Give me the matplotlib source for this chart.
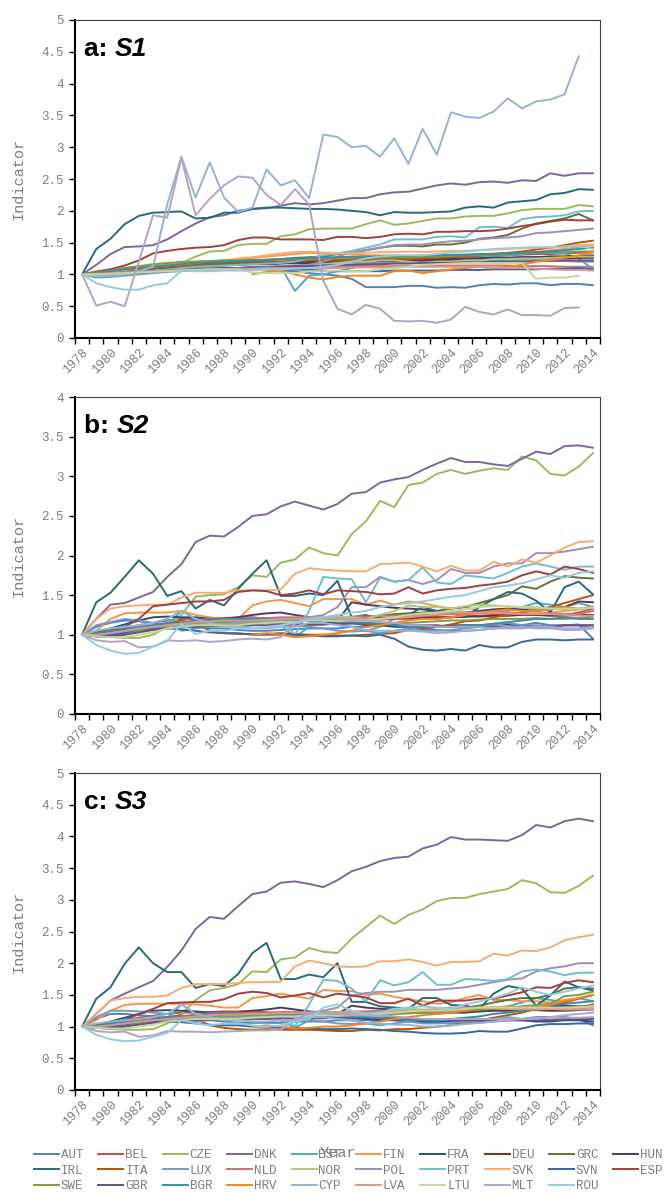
import numpy as np
import matplotlib
matplotlib.use("Agg")
import matplotlib.pyplot as plt

nan = np.nan
years = list(range(1978, 2015))

countries = ["AUT", "BEL", "CZE", "DNK", "EST", "FIN", "FRA", "DEU", "GRC", "HUN",
             "IRL", "ITA", "LUX", "NLD", "NOR", "POL", "PRT", "SVK", "SVN", "ESP",
             "SWE", "GBR", "BGR", "HRV", "CYP", "LVA", "LTU", "MLT", "ROU"]

colors = ["#4F81BD", "#C0504D", "#9BBB59", "#8064A2", "#4BACC6", "#F79646",
          "#2C4D75", "#772C2A", "#5F7530", "#4D3B62", "#276A7C", "#B65708",
          "#729ACA", "#CD7371", "#AFC97A", "#A48CBA", "#6FBDD1", "#F9AB6B",
          "#3A679C", "#A13F3D", "#7F9D40", "#6A5084", "#358EA6", "#F7841D",
          "#95B3D7", "#D99694", "#C3D69B", "#B3A2C7", "#93CDDD"]

# ---- panel a: S1 ----
s1 = {
    "AUT": [1.0, 1.02, 1.03, 1.05, 1.06, 1.07, 1.08, 1.08, 1.09, 1.1, 1.1, 1.1, 1.1, 1.08, 1.06, 1.05, 1.02, 1.0, 0.98, 0.93, 0.8, 0.8, 0.8, 0.82, 0.82, 0.79, 0.8, 0.79, 0.83, 0.85, 0.84, 0.86, 0.86, 0.83, 0.85, 0.85, 0.83],
    "BEL": [1.0, 1.03, 1.06, 1.08, 1.1, 1.12, 1.14, 1.15, 1.16, 1.17, 1.18, 1.18, 1.19, 1.2, 1.2, 1.21, 1.22, 1.22, 1.23, 1.24, 1.25, 1.25, 1.26, 1.26, 1.27, 1.27, 1.28, 1.28, 1.29, 1.3, 1.3, 1.31, 1.32, 1.32, 1.33, 1.34, 1.35],
    "CZE": [1.0, 1.0, 1.02, 1.04, 1.06, 1.08, 1.1, 1.18, 1.28, 1.36, 1.37, 1.46, 1.48, 1.48, 1.6, 1.63, 1.71, 1.72, 1.72, 1.72, 1.79, 1.85, 1.78, 1.8, 1.84, 1.88, 1.88, 1.91, 1.92, 1.92, 1.96, 2.01, 2.03, 2.03, 2.03, 2.09, 2.07],
    "DNK": [1.0, 1.15, 1.32, 1.43, 1.44, 1.46, 1.55, 1.68, 1.8, 1.9, 1.93, 2.0, 2.03, 2.04, 2.08, 2.12, 2.1, 2.12, 2.16, 2.2, 2.2, 2.26, 2.29, 2.3, 2.35, 2.4, 2.43, 2.41, 2.45, 2.46, 2.44, 2.48, 2.47, 2.59, 2.55, 2.59, 2.59],
    "EST": [1.0, 1.0, 1.02, 1.04, 1.06, 1.08, 1.1, 1.12, 1.14, 1.16, 1.17, 1.18, 1.2, 1.22, 1.12, 0.74, 0.98, 1.0, 1.05, 1.1, 1.15, 1.18, 1.2, 1.22, 1.2, 1.22, 1.24, 1.25, 1.26, 1.28, 1.3, 1.32, 1.35, 1.34, 1.33, 1.25, 1.08],
    "FIN": [1.0, 1.05, 1.08, 1.1, 1.12, 1.15, 1.17, 1.2, 1.2, 1.21, 1.22, 1.24, 1.26, 1.28, 1.3, 1.32, 1.34, 1.33, 1.32, 1.32, 1.3, 1.3, 1.3, 1.29, 1.29, 1.3, 1.3, 1.31, 1.32, 1.33, 1.33, 1.34, 1.35, 1.38, 1.4, 1.43, 1.46],
    "FRA": [1.0, 1.02, 1.05, 1.08, 1.1, 1.12, 1.13, 1.14, 1.15, 1.16, 1.17, 1.18, 1.18, 1.18, 1.19, 1.19, 1.2, 1.2, 1.21, 1.21, 1.22, 1.22, 1.23, 1.23, 1.24, 1.24, 1.25, 1.25, 1.25, 1.26, 1.26, 1.27, 1.27, 1.28, 1.28, 1.29, 1.3],
    "DEU": [1.0, 1.02, 1.04, 1.06, 1.08, 1.1, 1.11, 1.12, 1.13, 1.14, 1.15, 1.16, 1.17, 1.18, 1.18, 1.18, 1.18, 1.19, 1.19, 1.2, 1.2, 1.2, 1.21, 1.21, 1.21, 1.22, 1.22, 1.22, 1.23, 1.23, 1.24, 1.24, 1.25, 1.25, 1.25, 1.26, 1.26],
    "GRC": [1.0, 1.02, 1.05, 1.08, 1.1, 1.12, 1.14, 1.15, 1.16, 1.17, 1.18, 1.19, 1.2, 1.22, 1.24, 1.26, 1.27, 1.28, 1.32, 1.35, 1.38, 1.42, 1.45, 1.45, 1.44, 1.47, 1.47, 1.5, 1.56, 1.58, 1.62, 1.72, 1.8, 1.84, 1.88, 1.95, 1.85],
    "HUN": [1.0, 1.01, 1.03, 1.05, 1.06, 1.08, 1.1, 1.11, 1.12, 1.13, 1.14, 1.15, 1.16, 1.16, 1.17, 1.18, 1.18, 1.19, 1.2, 1.2, 1.21, 1.21, 1.22, 1.22, 1.23, 1.23, 1.24, 1.24, 1.25, 1.26, 1.26, 1.27, 1.27, 1.28, 1.28, 1.29, 1.29],
    "IRL": [1.0, 1.4, 1.56, 1.79, 1.92, 1.97, 1.98, 1.99, 1.88, 1.89, 1.97, 1.97, 2.03, 2.05, 2.05, 2.04, 2.03, 2.03, 2.02, 2.0, 1.98, 1.93, 1.98, 1.97, 1.97, 1.98, 1.99, 2.05, 2.07, 2.05, 2.13, 2.15, 2.17, 2.26, 2.28, 2.34, 2.33],
    "ITA": [1.0, 1.02, 1.04, 1.06, 1.08, 1.1, 1.12, 1.13, 1.14, 1.15, 1.16, 1.17, 1.18, 1.19, 1.2, 1.21, 1.22, 1.22, 1.22, 1.22, 1.23, 1.23, 1.24, 1.24, 1.25, 1.26, 1.27, 1.28, 1.3, 1.32, 1.34, 1.36, 1.39, 1.42, 1.46, 1.5, 1.53],
    "LUX": [1.0, 0.95, 0.96, 0.98, 1.0, 1.02, 1.04, 1.05, 1.06, 1.08, 1.1, 1.1, 1.12, 1.12, 1.13, 1.14, 1.15, 1.15, 1.16, 1.16, 1.17, 1.18, 1.18, 1.18, 1.19, 1.2, 1.2, 1.21, 1.22, 1.22, 1.22, 1.23, 1.23, 1.22, 1.21, 1.2, 1.2],
    "NLD": [1.0, 1.01, 1.02, 1.04, 1.05, 1.06, 1.07, 1.08, 1.09, 1.1, 1.1, 1.1, 1.11, 1.11, 1.12, 1.12, 1.12, 1.12, 1.12, 1.13, 1.13, 1.13, 1.13, 1.13, 1.13, 1.14, 1.14, 1.14, 1.14, 1.14, 1.14, 1.13, 1.13, 1.13, 1.12, 1.12, 1.12],
    "NOR": [1.0, 1.0, 1.01, 1.02, 1.03, 1.05, 1.06, 1.07, 1.08, 1.09, 1.1, 1.1, 1.1, 1.11, 1.11, 1.12, 1.14, 1.16, 1.18, 1.2, 1.2, 1.22, 1.22, 1.2, 1.18, 1.2, 1.2, 1.22, 1.22, 1.24, 1.24, 1.25, 1.25, 1.26, 1.27, 1.28, 1.28],
    "POL": [1.0, 1.01, 1.02, 1.03, 1.04, 1.05, 1.06, 1.07, 1.08, 1.09, 1.1, 1.1, 1.11, 1.12, 1.13, 1.14, 1.15, 1.2, 1.28, 1.35, 1.38, 1.42, 1.46, 1.47, 1.47, 1.5, 1.52, 1.53, 1.55, 1.57, 1.58, 1.6, 1.65, 1.66, 1.68, 1.7, 1.72],
    "PRT": [1.0, 0.98, 1.0, 1.02, 1.04, 1.06, 1.08, 1.1, 1.12, 1.13, 1.14, 1.15, 1.16, 1.17, 1.18, 1.2, 1.25, 1.3, 1.33, 1.37, 1.42, 1.47, 1.55, 1.55, 1.55, 1.59, 1.6, 1.58, 1.74, 1.75, 1.73, 1.87, 1.9, 1.91, 1.93, 1.99, 2.0],
    "SVK": [1.0, 1.03, 1.05, 1.07, 1.1, 1.12, 1.14, 1.16, 1.18, 1.2, 1.22, 1.25, 1.27, 1.3, 1.33, 1.35, 1.36, 1.34, 1.33, 1.33, 1.34, 1.35, 1.35, 1.36, 1.35, 1.36, 1.37, 1.37, 1.38, 1.39, 1.4, 1.41, 1.42, 1.43, 1.44, 1.46, 1.47],
    "SVN": [1.0, 1.0, 1.01, 1.02, 1.03, 1.04, 1.05, 1.06, 1.06, 1.07, 1.07, 1.08, 1.08, 1.08, 1.08, 1.08, 1.07, 1.06, 1.05, 1.05, 1.05, 1.05, 1.06, 1.06, 1.06, 1.06, 1.07, 1.07, 1.07, 1.08, 1.08, 1.08, 1.08, 1.09, 1.09, 1.1, 1.08],
    "ESP": [1.0, 1.04, 1.08, 1.14, 1.22, 1.33, 1.37, 1.4, 1.42, 1.43, 1.46, 1.54, 1.58, 1.58, 1.55, 1.55, 1.55, 1.54, 1.59, 1.59, 1.57, 1.59, 1.63, 1.64, 1.63, 1.67, 1.67, 1.68, 1.68, 1.69, 1.72, 1.76, 1.79, 1.83, 1.86, 1.85, 1.85],
    "SWE": [1.0, 1.03, 1.06, 1.1, 1.13, 1.16, 1.18, 1.19, 1.2, 1.21, 1.22, 1.22, 1.23, 1.23, 1.24, 1.24, 1.25, 1.25, 1.26, 1.26, 1.27, 1.27, 1.27, 1.27, 1.28, 1.28, 1.29, 1.3, 1.3, 1.31, 1.32, 1.33, 1.34, 1.35, 1.35, 1.36, 1.36],
    "GBR": [1.0, 1.01, 1.02, 1.03, 1.04, 1.05, 1.06, 1.07, 1.08, 1.09, 1.1, 1.1, 1.11, 1.11, 1.12, 1.13, 1.13, 1.14, 1.15, 1.15, 1.16, 1.16, 1.17, 1.17, 1.18, 1.18, 1.18, 1.19, 1.19, 1.2, 1.2, 1.2, 1.21, 1.21, 1.22, 1.22, 1.22],
    "BGR": [1.0, 1.02, 1.05, 1.08, 1.1, 1.12, 1.14, 1.16, 1.18, 1.19, 1.2, 1.21, 1.22, 1.23, 1.24, 1.25, 1.26, 1.27, 1.27, 1.28, 1.28, 1.28, 1.29, 1.29, 1.3, 1.3, 1.31, 1.31, 1.32, 1.32, 1.33, 1.34, 1.35, 1.36, 1.38, 1.4, 1.42],
    "HRV": [nan] * 12 + [1.0, 1.04, 1.06, 1.0, 0.95, 0.92, 0.96, 0.98, 0.98, 0.98, 1.05, 1.06, 1.02, 1.05, 1.08, 1.1, 1.12, 1.1, 1.12, 1.15, 1.2, 1.22, 1.26, 1.3, 1.35],
    "CYP": [1.0, 0.97, 0.98, 1.0, 1.05, 1.12, 2.1, 2.85, 2.21, 2.76, 2.21, 1.98, 2.05, 2.65, 2.4, 2.48, 2.2, 3.2, 3.16, 3.0, 3.02, 2.85, 3.14, 2.74, 3.29, 2.88, 3.55, 3.48, 3.46, 3.56, 3.77, 3.61, 3.72, 3.75, 3.83, 4.43, nan],
    "LVA": [1.0, 1.01, 1.02, 1.03, 1.04, 1.05, 1.06, 1.07, 1.07, 1.08, 1.08, 1.09, 1.09, 1.1, 1.1, 1.1, 1.1, 1.1, 1.1, 1.11, 1.11, 1.11, 1.11, 1.12, 1.12, 1.12, 1.12, 1.12, 1.12, 1.11, 1.1, 1.1, 1.09, 1.08, 1.07, 1.07, 1.06],
    "LTU": [1.0, 1.0, 1.01, 1.02, 1.03, 1.04, 1.05, 1.06, 1.07, 1.08, 1.08, 1.08, 1.03, 1.02, 1.02, 1.02, 1.05, 1.05, 1.06, 1.05, 1.05, 1.08, 1.1, 1.12, 1.15, 1.16, 1.17, 1.18, 1.18, 1.18, 1.18, 1.18, 0.93, 0.95, 0.95, 0.98, nan],
    "MLT": [1.0, 0.51, 0.57, 0.5, 1.2, 1.93, 1.89, 2.83, 1.93, 2.19, 2.4, 2.54, 2.52, 2.25, 2.09, 2.34, 2.1, 0.9, 0.46, 0.37, 0.52, 0.46, 0.27, 0.26, 0.27, 0.24, 0.29, 0.49, 0.41, 0.37, 0.45, 0.36, 0.36, 0.35, 0.47, 0.48, nan],
    "ROU": [1.0, 0.86, 0.8, 0.76, 0.76, 0.83, 0.86, 1.06, 1.05, 1.05, 1.06, 1.06, 1.07, 1.08, 1.08, 1.09, 1.1, 1.12, 1.15, 1.2, 1.25, 1.28, 1.3, 1.3, 1.3, 1.32, 1.35, 1.36, 1.38, 1.4, 1.41, 1.42, 1.43, 1.42, 1.43, 1.45, 1.4],
}

# ---- panel b: S2 ----
s2 = {
    "AUT": [1.0, 1.1, 1.15, 1.18, 1.17, 1.14, 1.12, 1.1, 1.1, 1.08, 1.08, 1.06, 1.05, 1.05, 1.06, 1.07, 1.08, 1.08, 1.08, 1.1, 1.1, 1.12, 1.12, 1.1, 1.08, 1.06, 1.05, 1.05, 1.06, 1.08, 1.1, 1.12, 1.15, 1.12, 1.12, 1.13, 0.95],
    "BEL": [1.0, 1.02, 1.05, 1.08, 1.12, 1.15, 1.18, 1.2, 1.2, 1.21, 1.21, 1.22, 1.22, 1.2, 1.2, 1.19, 1.2, 1.2, 1.2, 1.2, 1.19, 1.19, 1.2, 1.2, 1.21, 1.22, 1.22, 1.23, 1.24, 1.25, 1.25, 1.26, 1.25, 1.25, 1.25, 1.28, 1.33],
    "CZE": [1.0, 0.98, 0.97, 0.96, 0.96, 1.0, 1.1, 1.25, 1.48, 1.5, 1.51, 1.6, 1.75, 1.73, 1.91, 1.95, 2.1, 2.03, 2.0, 2.27, 2.43, 2.69, 2.61, 2.89, 2.92, 3.03, 3.08, 3.03, 3.07, 3.1, 3.08, 3.25, 3.2, 3.03, 3.01, 3.12, 3.29],
    "DNK": [1.0, 1.2, 1.38, 1.4, 1.47, 1.54, 1.73, 1.89, 2.17, 2.25, 2.24, 2.36, 2.5, 2.52, 2.62, 2.68, 2.63, 2.58, 2.65, 2.78, 2.8, 2.92, 2.96, 2.99, 3.08, 3.16, 3.23, 3.18, 3.18, 3.15, 3.13, 3.22, 3.31, 3.28, 3.38, 3.39, 3.36],
    "EST": [1.0, 1.0, 1.02, 1.05, 1.08, 1.1, 1.12, 1.3, 1.2, 1.15, 1.18, 1.2, 1.22, 1.2, 1.12, 0.97, 1.1, 1.2, 1.15, 1.1, 1.05, 1.1, 1.2, 1.25, 1.22, 1.2, 1.22, 1.25, 1.3, 1.28, 1.3, 1.35, 1.4, 1.38, 1.35, 1.4, 1.35],
    "FIN": [1.0, 1.05, 1.2, 1.27, 1.28, 1.28, 1.28, 1.3, 1.25, 1.22, 1.2, 1.2, 1.37, 1.42, 1.44, 1.4, 1.36, 1.45, 1.45, 1.45, 1.38, 1.43, 1.38, 1.42, 1.4, 1.36, 1.33, 1.35, 1.3, 1.28, 1.28, 1.27, 1.26, 1.28, 1.3, 1.32, 1.35],
    "FRA": [1.0, 1.03, 1.08, 1.13, 1.18, 1.22, 1.23, 1.22, 1.22, 1.2, 1.2, 1.19, 1.2, 1.21, 1.2, 1.2, 1.18, 1.15, 1.15, 1.15, 1.12, 1.12, 1.1, 1.1, 1.1, 1.1, 1.12, 1.12, 1.12, 1.13, 1.13, 1.12, 1.1, 1.1, 1.12, 1.12, 1.1],
    "DEU": [1.0, 1.02, 1.04, 1.06, 1.08, 1.1, 1.12, 1.13, 1.14, 1.15, 1.16, 1.17, 1.18, 1.18, 1.18, 1.19, 1.19, 1.2, 1.2, 1.2, 1.2, 1.21, 1.21, 1.21, 1.22, 1.22, 1.22, 1.23, 1.23, 1.24, 1.24, 1.25, 1.25, 1.24, 1.24, 1.25, 1.25],
    "GRC": [1.0, 1.0, 1.02, 1.04, 1.06, 1.08, 1.1, 1.12, 1.13, 1.14, 1.15, 1.16, 1.17, 1.17, 1.17, 1.18, 1.18, 1.19, 1.2, 1.2, 1.22, 1.24, 1.26, 1.27, 1.28, 1.3, 1.33, 1.35, 1.4, 1.45, 1.5, 1.61, 1.58, 1.67, 1.74, 1.72, 1.71],
    "HUN": [1.0, 1.0, 1.01, 1.03, 1.05, 1.08, 1.1, 1.12, 1.15, 1.18, 1.2, 1.22, 1.25, 1.27, 1.28, 1.25, 1.22, 1.2, 1.18, 1.41, 1.38, 1.36, 1.34, 1.33, 1.32, 1.3, 1.28, 1.28, 1.3, 1.32, 1.33, 1.32, 1.3, 1.32, 1.35, 1.42, 1.41],
    "IRL": [1.0, 1.41, 1.53, 1.73, 1.94, 1.77, 1.49, 1.55, 1.33, 1.44, 1.37, 1.58, 1.77, 1.94, 1.49, 1.49, 1.52, 1.5, 1.68, 1.22, 1.25, 1.2, 1.2, 1.25, 1.35, 1.3, 1.28, 1.22, 1.35, 1.45, 1.54, 1.52, 1.43, 1.28, 1.6, 1.67, 1.51],
    "ITA": [1.0, 0.98, 1.0, 1.03, 1.06, 1.1, 1.14, 1.18, 1.14, 1.05, 1.02, 1.01, 1.01, 1.01, 1.02, 1.01, 1.0, 1.0, 0.99, 0.99, 1.0, 1.01, 1.02, 1.06, 1.07, 1.1, 1.13, 1.17, 1.18, 1.22, 1.25, 1.28, 1.32, 1.35, 1.4, 1.45, 1.5],
    "LUX": [1.0, 1.12, 1.16, 1.2, 1.18, 1.15, 1.2, 1.05, 1.08, 1.1, 1.12, 1.1, 1.12, 1.15, 1.15, 1.12, 1.1, 1.08, 1.05, 1.04, 1.05, 1.02, 1.05, 1.08, 1.05, 1.05, 1.06, 1.08, 1.1, 1.12, 1.15, 1.12, 1.12, 1.1, 1.12, 1.12, 1.12],
    "NLD": [1.0, 1.01, 1.03, 1.05, 1.08, 1.1, 1.12, 1.15, 1.18, 1.2, 1.2, 1.2, 1.21, 1.21, 1.22, 1.22, 1.22, 1.22, 1.22, 1.23, 1.23, 1.24, 1.24, 1.24, 1.25, 1.25, 1.26, 1.26, 1.27, 1.28, 1.28, 1.27, 1.27, 1.27, 1.26, 1.26, 1.3],
    "NOR": [1.0, 1.0, 1.02, 1.04, 1.06, 1.08, 1.1, 1.12, 1.14, 1.15, 1.16, 1.17, 1.18, 1.18, 1.18, 1.18, 1.2, 1.22, 1.23, 1.22, 1.2, 1.25, 1.3, 1.37, 1.35, 1.35, 1.33, 1.36, 1.38, 1.37, 1.36, 1.34, 1.33, 1.33, 1.32, 1.33, 1.34],
    "POL": [1.0, 1.0, 1.01, 1.03, 1.05, 1.07, 1.08, 1.1, 1.11, 1.12, 1.13, 1.14, 1.15, 1.16, 1.18, 1.2, 1.22, 1.25, 1.35, 1.6, 1.6, 1.73, 1.67, 1.69, 1.64, 1.69, 1.83, 1.78, 1.78, 1.86, 1.9, 1.9, 2.03, 2.03, 2.05, 2.08, 2.11],
    "PRT": [1.0, 1.0, 1.02, 1.04, 1.06, 1.08, 1.1, 1.12, 1.14, 1.15, 1.15, 1.16, 1.17, 1.18, 1.2, 1.0, 1.3, 1.73, 1.71, 1.7, 1.41, 1.72, 1.67, 1.69, 1.85, 1.66, 1.64, 1.75, 1.73, 1.71, 1.78, 1.86, 1.9, 1.86, 1.82, 1.86, 1.86],
    "SVK": [1.0, 1.2, 1.33, 1.36, 1.37, 1.38, 1.38, 1.47, 1.53, 1.53, 1.53, 1.56, 1.56, 1.56, 1.57, 1.77, 1.84, 1.82, 1.81, 1.8, 1.8, 1.89, 1.9, 1.91, 1.86, 1.8, 1.87, 1.81, 1.81, 1.92, 1.86, 1.95, 1.91, 2.0, 2.1, 2.17, 2.18],
    "SVN": [1.0, 1.0, 1.0, 1.02, 1.05, 1.08, 1.08, 1.07, 1.05, 1.03, 1.02, 1.02, 1.0, 1.0, 1.0, 1.0, 0.99, 0.98, 0.98, 0.99, 0.98, 1.0, 0.95, 0.85, 0.81, 0.8, 0.82, 0.8, 0.87, 0.84, 0.84, 0.91, 0.94, 0.94, 0.93, 0.94, 0.94],
    "ESP": [1.0, 1.02, 1.05, 1.1, 1.2, 1.36, 1.38, 1.4, 1.42, 1.42, 1.44, 1.54, 1.56, 1.55, 1.5, 1.52, 1.56, 1.51, 1.56, 1.55, 1.54, 1.51, 1.52, 1.6, 1.52, 1.56, 1.58, 1.59, 1.62, 1.64, 1.67, 1.75, 1.8, 1.76, 1.86, 1.83, 1.78],
    "SWE": [1.0, 0.98, 0.97, 1.0, 1.05, 1.1, 1.12, 1.14, 1.15, 1.16, 1.16, 1.17, 1.17, 1.15, 1.13, 1.12, 1.12, 1.13, 1.14, 1.15, 1.14, 1.14, 1.14, 1.15, 1.16, 1.17, 1.18, 1.18, 1.19, 1.2, 1.2, 1.2, 1.21, 1.2, 1.2, 1.21, 1.23],
    "GBR": [1.0, 0.98, 0.98, 1.0, 1.03, 1.06, 1.08, 1.1, 1.1, 1.11, 1.12, 1.12, 1.12, 1.12, 1.13, 1.13, 1.13, 1.13, 1.14, 1.14, 1.14, 1.14, 1.14, 1.12, 1.12, 1.12, 1.1, 1.1, 1.1, 1.1, 1.1, 1.1, 1.1, 1.1, 1.12, 1.12, 1.12],
    "BGR": [1.0, 1.02, 1.05, 1.08, 1.1, 1.12, 1.15, 1.15, 1.18, 1.2, 1.2, 1.2, 1.2, 1.2, 1.2, 1.19, 1.18, 1.18, 1.17, 1.16, 1.15, 1.14, 1.12, 1.1, 1.1, 1.1, 1.1, 1.12, 1.12, 1.14, 1.16, 1.18, 1.2, 1.2, 1.22, 1.2, 1.2],
    "HRV": [nan] * 12 + [1.0, 1.02, 1.0, 0.97, 0.98, 1.0, 1.02, 1.05, 1.1, 1.12, 1.15, 1.18, 1.2, 1.2, 1.22, 1.25, 1.28, 1.3, 1.32, 1.3, 1.3, 1.32, 1.35, 1.33, 1.35],
    "CYP": [1.0, 1.05, 1.08, 1.1, 1.12, 1.15, 1.2, 1.3, 1.2, 1.15, 1.1, 1.1, 1.08, 1.08, 1.1, 1.1, 1.15, 1.15, 1.12, 1.1, 1.06, 1.05, 1.05, 1.05, 1.04, 1.02, 1.03, 1.05, 1.06, 1.08, 1.1, 1.1, 1.08, 1.08, 1.06, 1.06, 1.08],
    "LVA": [1.0, 1.0, 1.02, 1.05, 1.08, 1.1, 1.12, 1.14, 1.16, 1.17, 1.18, 1.18, 1.18, 1.19, 1.2, 1.2, 1.2, 1.2, 1.2, 1.2, 1.2, 1.2, 1.21, 1.22, 1.24, 1.26, 1.28, 1.28, 1.28, 1.28, 1.27, 1.26, 1.26, 1.26, 1.25, 1.24, 1.24],
    "LTU": [1.0, 0.98, 0.97, 0.97, 1.0, 1.03, 1.08, 1.1, 1.12, 1.12, 1.12, 1.12, 1.14, 1.15, 1.16, 1.16, 1.18, 1.18, 1.17, 1.18, 1.18, 1.2, 1.22, 1.25, 1.27, 1.28, 1.3, 1.32, 1.35, 1.36, 1.36, 1.35, 1.35, 1.33, 1.33, 1.33, 1.34],
    "MLT": [1.0, 0.93, 0.91, 0.92, 0.84, 0.85, 0.93, 0.92, 0.93, 0.91, 0.92, 0.94, 0.95, 0.94, 0.97, 1.14, 1.2, 1.22, 1.2, 1.18, 1.18, 1.16, 1.15, 1.12, 1.12, 1.1, 1.1, 1.1, 1.1, 1.08, 1.08, 1.08, 1.1, 1.1, 1.08, 1.08, 1.1],
    "ROU": [1.0, 0.87, 0.8, 0.76, 0.77, 0.85, 0.92, 1.14, 1.01, 1.05, 1.05, 1.08, 1.08, 1.1, 1.12, 1.15, 1.2, 1.22, 1.25, 1.28, 1.3, 1.35, 1.38, 1.4, 1.42, 1.45, 1.48, 1.5, 1.55, 1.6, 1.62, 1.65, 1.7, 1.75, 1.72, 1.78, 1.8],
}

# ---- panel c: S3 ----
s3 = {
    "AUT": [1.0, 1.12, 1.2, 1.2, 1.18, 1.16, 1.14, 1.12, 1.12, 1.1, 1.08, 1.06, 1.06, 1.06, 1.06, 1.08, 1.08, 1.08, 1.1, 1.1, 1.1, 1.12, 1.12, 1.1, 1.08, 1.06, 1.05, 1.05, 1.06, 1.08, 1.1, 1.12, 1.15, 1.15, 1.15, 1.12, 1.02],
    "BEL": [1.0, 1.02, 1.05, 1.1, 1.14, 1.17, 1.2, 1.22, 1.22, 1.23, 1.24, 1.24, 1.25, 1.22, 1.22, 1.21, 1.22, 1.22, 1.22, 1.22, 1.2, 1.2, 1.21, 1.21, 1.22, 1.23, 1.23, 1.24, 1.25, 1.26, 1.27, 1.28, 1.28, 1.28, 1.28, 1.3, 1.35],
    "CZE": [1.0, 0.98, 0.96, 0.95, 0.95, 0.96, 1.05, 1.2, 1.42, 1.57, 1.61, 1.67, 1.87, 1.86, 2.06, 2.09, 2.24, 2.18, 2.16, 2.39, 2.57, 2.75, 2.62, 2.76, 2.85, 2.98, 3.03, 3.03, 3.09, 3.13, 3.17, 3.31, 3.26, 3.12, 3.11, 3.22, 3.38],
    "DNK": [1.0, 1.2, 1.41, 1.52, 1.62, 1.72, 1.94, 2.2, 2.54, 2.73, 2.7, 2.9, 3.09, 3.13, 3.27, 3.29, 3.25, 3.2, 3.31, 3.45, 3.52, 3.61, 3.66, 3.68, 3.81, 3.87, 3.99, 3.95, 3.95, 3.94, 3.93, 4.02, 4.18, 4.14, 4.24, 4.28, 4.24],
    "EST": [1.0, 1.0, 1.02, 1.05, 1.08, 1.1, 1.12, 1.35, 1.2, 1.15, 1.18, 1.2, 1.22, 1.2, 1.1, 0.98, 1.1, 1.2, 1.15, 1.1, 1.05, 1.1, 1.2, 1.25, 1.22, 1.2, 1.22, 1.26, 1.3, 1.28, 1.32, 1.38, 1.45, 1.42, 1.38, 1.45, 1.4],
    "FIN": [1.0, 1.1, 1.25, 1.34, 1.36, 1.36, 1.36, 1.36, 1.35, 1.33, 1.3, 1.3, 1.45, 1.48, 1.52, 1.48, 1.44, 1.58, 1.56, 1.56, 1.5, 1.52, 1.47, 1.43, 1.4, 1.36, 1.38, 1.45, 1.5, 1.42, 1.42, 1.4, 1.4, 1.38, 1.42, 1.45, 1.5],
    "FRA": [1.0, 1.03, 1.08, 1.14, 1.2, 1.25, 1.26, 1.25, 1.24, 1.22, 1.22, 1.21, 1.22, 1.22, 1.21, 1.2, 1.18, 1.15, 1.15, 1.14, 1.12, 1.1, 1.1, 1.08, 1.07, 1.07, 1.08, 1.08, 1.08, 1.1, 1.1, 1.1, 1.08, 1.08, 1.1, 1.1, 1.08],
    "DEU": [1.0, 1.02, 1.04, 1.06, 1.08, 1.1, 1.12, 1.14, 1.15, 1.16, 1.17, 1.18, 1.19, 1.2, 1.2, 1.2, 1.2, 1.21, 1.21, 1.21, 1.21, 1.22, 1.22, 1.22, 1.23, 1.23, 1.23, 1.24, 1.24, 1.25, 1.25, 1.26, 1.26, 1.25, 1.25, 1.26, 1.27],
    "GRC": [1.0, 1.0, 1.02, 1.04, 1.06, 1.08, 1.1, 1.12, 1.14, 1.15, 1.16, 1.17, 1.18, 1.18, 1.18, 1.19, 1.19, 1.2, 1.2, 1.2, 1.21, 1.22, 1.22, 1.22, 1.24, 1.26, 1.28, 1.3, 1.33, 1.38, 1.42, 1.45, 1.45, 1.5, 1.6, 1.62, 1.6],
    "HUN": [1.0, 1.0, 1.01, 1.03, 1.05, 1.08, 1.1, 1.12, 1.15, 1.18, 1.2, 1.22, 1.25, 1.27, 1.3, 1.27, 1.24, 1.22, 1.2, 1.33, 1.3, 1.28, 1.27, 1.25, 1.23, 1.22, 1.22, 1.22, 1.24, 1.26, 1.28, 1.3, 1.3, 1.32, 1.33, 1.32, 1.32],
    "IRL": [1.0, 1.44, 1.62, 1.99, 2.25, 2.0, 1.86, 1.86, 1.61, 1.67, 1.64, 1.83, 2.16, 2.32, 1.75, 1.75, 1.82, 1.78, 2.0, 1.39, 1.39, 1.32, 1.3, 1.28, 1.45, 1.45, 1.34, 1.33, 1.28, 1.52, 1.64, 1.6, 1.33, 1.49, 1.71, 1.62, 1.57],
    "ITA": [1.0, 0.98, 1.0, 1.04, 1.08, 1.12, 1.15, 1.18, 1.12, 1.02, 0.98, 0.96, 0.95, 0.96, 0.95, 0.95, 0.95, 0.94, 0.93, 0.93, 0.95, 0.94, 0.96, 0.96, 0.98, 1.0, 1.02, 1.05, 1.1, 1.14, 1.18, 1.22, 1.28, 1.33, 1.38, 1.44, 1.5],
    "LUX": [1.0, 1.15, 1.25, 1.25, 1.24, 1.22, 1.2, 1.1, 1.08, 1.1, 1.12, 1.1, 1.12, 1.15, 1.15, 1.12, 1.1, 1.08, 1.05, 1.04, 1.05, 1.02, 1.05, 1.08, 1.05, 1.05, 1.06, 1.08, 1.1, 1.12, 1.15, 1.12, 1.12, 1.1, 1.12, 1.12, 1.12],
    "NLD": [1.0, 1.01, 1.03, 1.05, 1.08, 1.1, 1.13, 1.16, 1.19, 1.21, 1.21, 1.21, 1.22, 1.22, 1.23, 1.23, 1.23, 1.23, 1.23, 1.24, 1.24, 1.25, 1.25, 1.25, 1.26, 1.26, 1.27, 1.27, 1.28, 1.29, 1.29, 1.28, 1.28, 1.28, 1.27, 1.28, 1.32],
    "NOR": [1.0, 1.0, 1.02, 1.04, 1.06, 1.08, 1.1, 1.12, 1.14, 1.15, 1.16, 1.17, 1.18, 1.18, 1.18, 1.18, 1.2, 1.22, 1.23, 1.22, 1.2, 1.22, 1.25, 1.28, 1.27, 1.26, 1.25, 1.27, 1.28, 1.28, 1.28, 1.27, 1.27, 1.28, 1.28, 1.3, 1.32],
    "POL": [1.0, 1.0, 1.01, 1.03, 1.05, 1.07, 1.08, 1.1, 1.11, 1.12, 1.13, 1.14, 1.15, 1.16, 1.18, 1.2, 1.22, 1.25, 1.3, 1.49, 1.53, 1.55, 1.55, 1.58, 1.58, 1.58, 1.6, 1.62, 1.66, 1.7, 1.74, 1.76, 1.87, 1.92, 1.95, 2.0, 2.0],
    "PRT": [1.0, 1.0, 1.02, 1.04, 1.06, 1.08, 1.1, 1.12, 1.14, 1.15, 1.15, 1.16, 1.17, 1.18, 1.2, 1.0, 1.35, 1.74, 1.72, 1.6, 1.4, 1.73, 1.65, 1.7, 1.86, 1.66, 1.66, 1.75, 1.74, 1.72, 1.75, 1.87, 1.9, 1.87, 1.81, 1.85, 1.85],
    "SVK": [1.0, 1.2, 1.41, 1.45, 1.47, 1.47, 1.49, 1.61, 1.67, 1.67, 1.67, 1.69, 1.7, 1.7, 1.71, 1.95, 2.04, 2.0, 1.95, 1.94, 1.95, 2.03, 2.03, 2.06, 2.02, 1.96, 2.02, 2.02, 2.03, 2.15, 2.12, 2.2, 2.19, 2.25, 2.36, 2.41, 2.45],
    "SVN": [1.0, 1.0, 1.0, 1.02, 1.05, 1.08, 1.08, 1.07, 1.05, 1.03, 1.02, 1.02, 1.0, 1.0, 0.98, 0.98, 0.97, 0.96, 0.96, 0.97, 0.96, 0.95, 0.93, 0.92, 0.9, 0.89, 0.89, 0.9, 0.93, 0.92, 0.92, 0.97, 1.02, 1.04, 1.04, 1.05, 1.05],
    "ESP": [1.0, 1.02, 1.05, 1.1, 1.2, 1.28, 1.37, 1.38, 1.39, 1.39, 1.43, 1.52, 1.55, 1.53, 1.46, 1.49, 1.53, 1.46, 1.52, 1.49, 1.46, 1.37, 1.37, 1.44, 1.33, 1.41, 1.41, 1.41, 1.44, 1.44, 1.49, 1.54, 1.62, 1.61, 1.69, 1.73, 1.7],
    "SWE": [1.0, 0.98, 0.97, 1.0, 1.05, 1.1, 1.12, 1.14, 1.15, 1.16, 1.16, 1.17, 1.18, 1.18, 1.18, 1.18, 1.18, 1.19, 1.19, 1.2, 1.2, 1.2, 1.2, 1.21, 1.22, 1.23, 1.24, 1.25, 1.26, 1.28, 1.3, 1.32, 1.34, 1.36, 1.48, 1.5, 1.55],
    "GBR": [1.0, 0.98, 0.98, 1.0, 1.03, 1.06, 1.08, 1.1, 1.1, 1.11, 1.12, 1.12, 1.12, 1.12, 1.13, 1.13, 1.13, 1.13, 1.14, 1.14, 1.14, 1.14, 1.14, 1.12, 1.12, 1.12, 1.1, 1.1, 1.1, 1.1, 1.1, 1.1, 1.1, 1.1, 1.12, 1.12, 1.12],
    "BGR": [1.0, 1.02, 1.05, 1.08, 1.1, 1.12, 1.15, 1.15, 1.18, 1.2, 1.2, 1.2, 1.2, 1.2, 1.2, 1.19, 1.18, 1.18, 1.17, 1.16, 1.15, 1.14, 1.12, 1.1, 1.1, 1.1, 1.12, 1.14, 1.16, 1.2, 1.22, 1.25, 1.3, 1.33, 1.36, 1.38, 1.4],
    "HRV": [nan] * 12 + [1.0, 1.02, 1.0, 0.97, 0.98, 1.0, 1.0, 1.02, 1.05, 1.08, 1.12, 1.15, 1.18, 1.2, 1.22, 1.25, 1.3, 1.3, 1.32, 1.3, 1.3, 1.35, 1.4, 1.45, 1.5],
    "CYP": [1.0, 1.05, 1.08, 1.1, 1.12, 1.15, 1.2, 1.35, 1.2, 1.15, 1.1, 1.1, 1.08, 1.08, 1.1, 1.1, 1.15, 1.15, 1.12, 1.1, 1.06, 1.05, 1.03, 1.03, 1.0, 1.0, 1.02, 1.04, 1.06, 1.08, 1.1, 1.12, 1.12, 1.15, 1.18, 1.2, 1.22],
    "LVA": [1.0, 1.0, 1.02, 1.05, 1.08, 1.1, 1.12, 1.14, 1.16, 1.18, 1.19, 1.19, 1.2, 1.2, 1.21, 1.21, 1.21, 1.21, 1.21, 1.21, 1.21, 1.22, 1.23, 1.24, 1.26, 1.28, 1.3, 1.3, 1.3, 1.3, 1.29, 1.28, 1.28, 1.28, 1.27, 1.27, 1.27],
    "LTU": [1.0, 0.98, 0.97, 0.97, 1.0, 1.03, 1.08, 1.1, 1.12, 1.12, 1.12, 1.12, 1.14, 1.15, 1.16, 1.16, 1.18, 1.18, 1.17, 1.18, 1.18, 1.2, 1.22, 1.24, 1.25, 1.25, 1.26, 1.28, 1.3, 1.3, 1.3, 1.3, 1.3, 1.3, 1.3, 1.31, 1.32],
    "MLT": [1.0, 0.93, 0.91, 0.92, 0.84, 0.86, 0.93, 0.92, 0.92, 0.91, 0.92, 0.93, 0.94, 0.94, 0.95, 1.12, 1.2, 1.22, 1.2, 1.18, 1.18, 1.17, 1.16, 1.14, 1.12, 1.12, 1.12, 1.12, 1.12, 1.12, 1.12, 1.12, 1.14, 1.14, 1.14, 1.14, 1.15],
    "ROU": [1.0, 0.87, 0.8, 0.77, 0.78, 0.84, 0.9, 1.1, 1.05, 1.02, 1.05, 1.05, 1.02, 1.0, 1.02, 1.08, 1.12, 1.3, 1.35, 1.25, 1.2, 1.22, 1.28, 1.3, 1.32, 1.3, 1.28, 1.35, 1.4, 1.45, 1.52, 1.62, 1.55, 1.5, 1.55, 1.6, 1.65],
}

panels = [("a: ", "S1", s1, 5), ("b: ", "S2", s2, 4), ("c: ", "S3", s3, 5)]

mono = "Liberation Mono"
grey = "#7f7f7f"

fig = plt.figure(figsize=(6.65, 11.93), dpi=100)
W, H = 665.0, 1193.0
boxes = [(20, 338), (397, 714), (773, 1090)]   # top / bottom in px

axes = []
for (lab, sub, data, ymax), (top, bot) in zip(panels, boxes):
    ax = fig.add_axes([75 / W, 1 - bot / H, 525 / W, (bot - top) / H])
    axes.append(ax)
    for c, col in zip(countries, colors):
        ax.plot(years, data[c], color=col, lw=1.4, label=c)

    ax.set_xlim(1977.5, 2014.5)
    ax.set_ylim(0, ymax)
    yt = np.arange(0, ymax + 0.01, 0.5)
    ax.set_yticks(yt)
    ax.set_yticklabels([f"{v:g}" for v in yt])
    ax.set_xticks(years[::2])
    ax.set_xticklabels([str(y) for y in years[::2]], rotation=45, ha="right",
                       va="top", rotation_mode="anchor")
    ax.set_xticks(np.arange(1977.5, 2015, 1), minor=True)
    ax.tick_params(axis="x", which="major", length=0, pad=6)
    ax.tick_params(axis="x", which="minor", length=4, width=1, direction="out")
    ax.tick_params(axis="y", length=4, width=1, direction="out", pad=4)
    for t in ax.get_xticklabels() + ax.get_yticklabels():
        t.set_fontfamily(mono)
        t.set_fontsize(9)
        t.set_color(grey)
    for s in ["left", "bottom"]:
        ax.spines[s].set_linewidth(1.5)
        ax.spines[s].set_color("black")
    for s in ["top", "right"]:
        ax.spines[s].set_linewidth(0.8)
        ax.spines[s].set_color("#404040")
    ax.set_ylabel("Indicator", fontfamily=mono, fontsize=11, color=grey)
    ax.yaxis.set_label_coords(-0.095, 0.5)

    t = ax.text(0.017, 0.91, lab, transform=ax.transAxes, fontsize=19,
                fontweight="bold", fontfamily="Liberation Sans", va="center")
    ax.annotate(sub, xy=(1, 0), xycoords=t, va="bottom", fontsize=19,
                fontweight="bold", fontstyle="italic", fontfamily="Liberation Sans")

# legend reads row by row (10 per row), matplotlib fills by columns
handles, labels = axes[0].get_legend_handles_labels()
order = [r * 10 + j for j in range(10) for r in range(3) if r * 10 + j < len(handles)]
fig.legend([handles[i] for i in order], [labels[i] for i in order],
           ncol=10, loc="lower center", bbox_to_anchor=(0.524, -0.009),
           frameon=False, handlelength=2.0, handletextpad=0.15, columnspacing=1.2,
           labelspacing=0.3, prop={"family": mono, "size": 9}, labelcolor=grey)

fig.text(338 / W, 1 - 1153 / H, "Year", fontfamily=mono, fontsize=11, color=grey,
         ha="center", va="center")

fig.savefig("out.png", dpi=100)
